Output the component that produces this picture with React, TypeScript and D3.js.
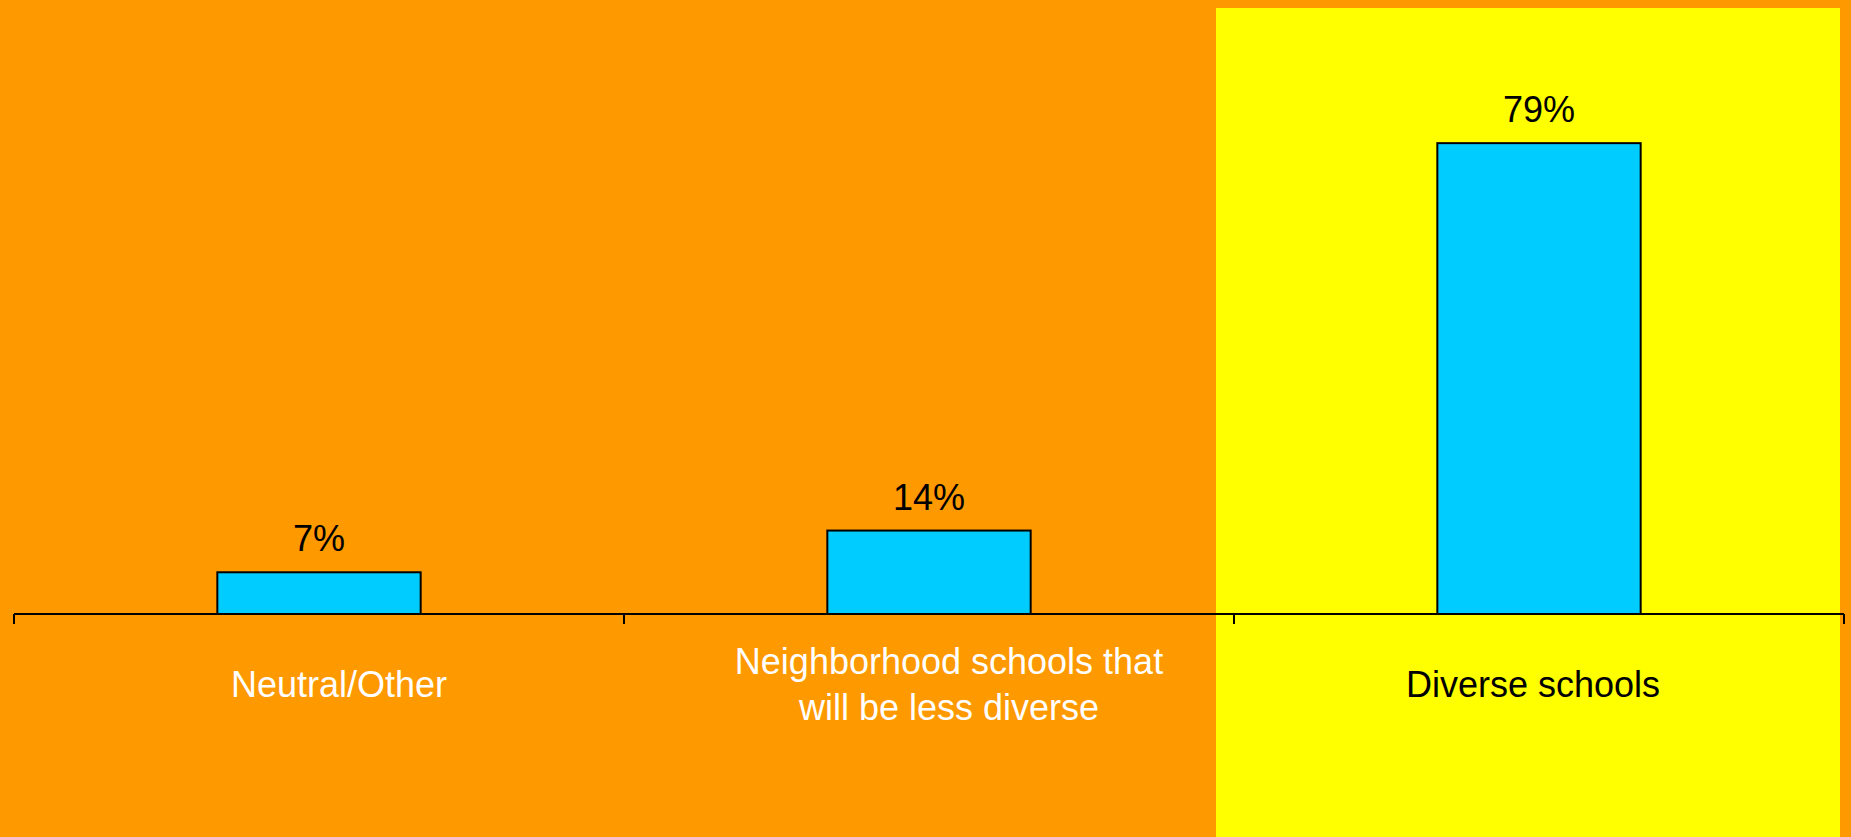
import * as React from "react";
import * as d3 from "d3";

const categories = ["Neutral/Other", "Neighborhood schools that will be less diverse", "Diverse schools"];
const labelLines = [["Neutral/Other"], ["Neighborhood schools that", "will be less diverse"], ["Diverse schools"]];
const values = [7, 14, 79];
const highlighted = "Diverse schools";

export default function App() {
    const width = 1851;
    const height = 837;

    const axisY = 614;
    const left = 14;
    const right = 1844;

    // slot scale for the axis ticks, bar scale for the bars
    let slot = d3.scaleBand<string>().domain(categories).range([left, right]).padding(0);
    let x = d3.scaleBand<string>().domain(categories).range([left, right]).paddingInner(2 / 3).paddingOuter(1 / 3);
    let y = d3.scaleLinear().domain([0, 100]).range([axisY, 18]);

    let font = "'Liberation Sans', Arial, sans-serif";
    let hiSlot = slot(highlighted) as number;

    return (
        <div style={{ position: "fixed", left: 0, top: 0, width: width, height: height, overflow: "hidden" }}>
            <svg width={width} height={height} style={{ display: "block" }}>
                <rect x={0} y={0} width={width} height={height} fill="#FF9900" />
                <rect x={hiSlot - 18} y={8} width={slot.bandwidth() + 14} height={height - 8} fill="#FFFF00" />

                {categories.map((c, i) => (
                    <rect key={c}
                        x={x(c)}
                        y={y(values[i])}
                        width={x.bandwidth()}
                        height={axisY - y(values[i])}
                        fill="#00CCFF"
                        stroke="#000"
                        strokeWidth={2} />
                ))}

                <line x1={left} x2={right} y1={axisY} y2={axisY} stroke="#000" strokeWidth={2} />
                {[...categories.map(c => slot(c) as number), right].map((t, i) => (
                    <line key={i} x1={t} x2={t} y1={axisY} y2={axisY + 10} stroke="#000" strokeWidth={2} />
                ))}

                {categories.map((c, i) => (
                    <text key={c}
                        x={(x(c) as number) + x.bandwidth() / 2}
                        y={y(values[i]) - 21}
                        textAnchor="middle"
                        fontFamily={font}
                        fontSize={36}
                        fill="#000">{values[i]}%</text>
                ))}

                {categories.map((c, i) => {
                    let lines = labelLines[i];
                    let cx = (slot(c) as number) + slot.bandwidth() / 2 + (c == highlighted ? -6 : 20);
                    let y0 = 697 - (lines.length - 1) * 23;
                    return (
                        <text key={c} textAnchor="middle" fontFamily={font} fontSize={36}
                            fill={c == highlighted ? "#000" : "#fff"}>
                            {lines.map((l, j) => <tspan key={j} x={cx} y={y0 + j * 46}>{l}</tspan>)}
                        </text>
                    );
                })}
            </svg>
        </div>
    );
}
